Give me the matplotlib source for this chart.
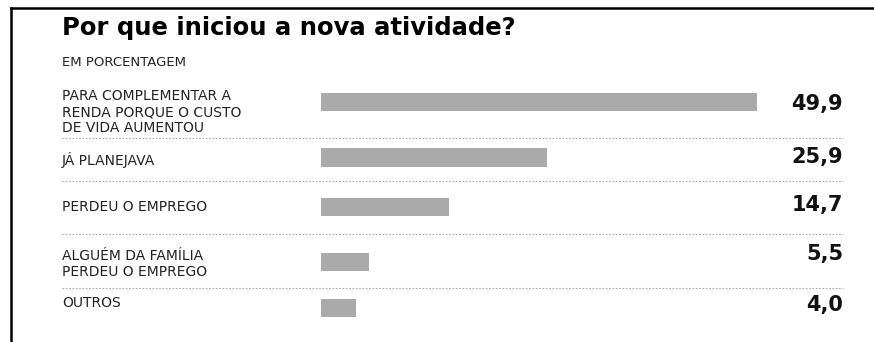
import matplotlib.pyplot as plt
from matplotlib.transforms import blended_transform_factory
from matplotlib.lines import Line2D

# dados
categorias = [
    "PARA COMPLEMENTAR A\nRENDA PORQUE O CUSTO\nDE VIDA AUMENTOU",
    "JÁ PLANEJAVA",
    "PERDEU O EMPREGO",
    "ALGUÉM DA FAMÍLIA\nPERDEU O EMPREGO",
    "OUTROS",
]
valores = [49.9, 25.9, 14.7, 5.5, 4.0]
rotulos = ["49,9", "25,9", "14,7", "5,5", "4,0"]

titulo = "Por que iniciou a nova atividade?"
subtitulo = "EM PORCENTAGEM"

# layout em pixels (figura 874x342)
W, H = 874, 342
centros_barras = [102, 157.5, 207, 262, 308]
centros_rotulos = [112, 160, 207, 264, 303]
centros_valores = [104, 157, 205, 254, 305]
separadores = [138, 181, 234, 288]
cor_barra = "#aaaaaa"

fig = plt.figure(figsize=(W / 100, H / 100), dpi=100)
fig.patch.set_facecolor("white")

x0, x1 = 321, 843
ax = fig.add_axes([x0 / W, 0, (x1 - x0) / W, 1])
ax.set_xlim(0, (x1 - x0) / (436 / 49.9))
ax.set_ylim(H, 0)
ax.axis("off")

ax.barh(centros_barras, valores, height=18.5, color=cor_barra, edgecolor="none")

trans = blended_transform_factory(fig.transFigure, ax.transData)
for rot, y in zip(categorias, centros_rotulos):
    ax.text(62 / W, y, rot, transform=trans, ha="left", va="center",
            fontsize=10, color="#222222", linespacing=1.15)

for v, y in zip(rotulos, centros_valores):
    ax.text(1.0, y, v, transform=blended_transform_factory(ax.transAxes, ax.transData),
            ha="right", va="center", fontsize=15, fontweight="bold", color="#111111")

for y in separadores:
    ax.add_line(Line2D([62 / W, x1 / W], [y, y], transform=trans, color="#aaaaaa",
                       lw=0.8, ls=(0, (1.5, 1.5)), clip_on=False))

fig.text(62 / W, 1 - 28 / H, titulo, ha="left", va="center",
         fontsize=17.5, fontweight="bold", color="black")
fig.text(62 / W, 1 - 63 / H, subtitulo, ha="left", va="center",
         fontsize=9.5, color="#222222")

# moldura
fig.add_artist(Line2D([10.5 / W, 1], [1 - 7.5 / H, 1 - 7.5 / H], transform=fig.transFigure,
                      color="black", lw=1.8))
fig.add_artist(Line2D([10.5 / W, 10.5 / W], [0, 1 - 7.5 / H], transform=fig.transFigure,
                      color="black", lw=1.8))

fig.savefig("out.png", dpi=100, facecolor="white")
